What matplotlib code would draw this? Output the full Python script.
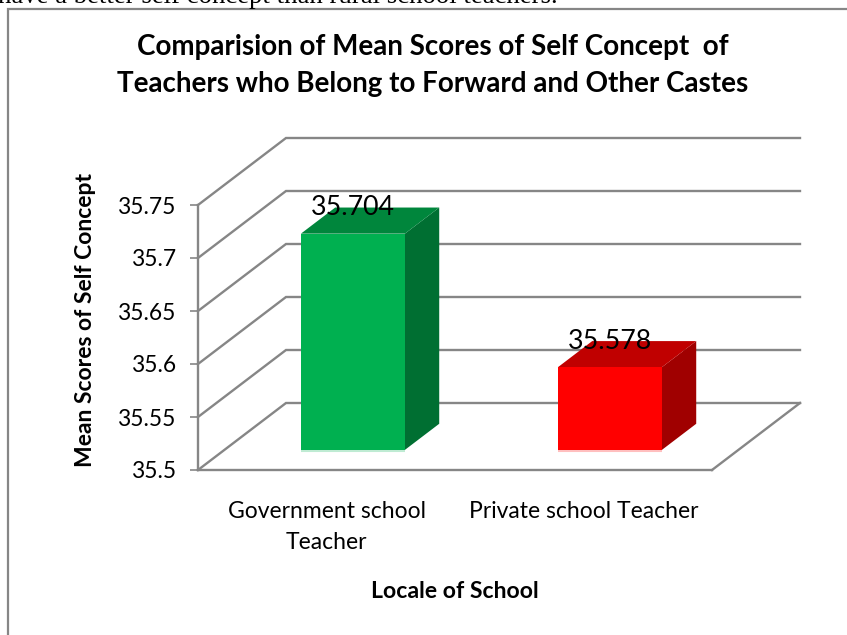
import matplotlib
matplotlib.use("Agg")
import matplotlib.pyplot as plt
from matplotlib.lines import Line2D
from matplotlib.patches import Polygon

plt.rcParams["font.family"] = ["Lato", "DejaVu Sans"]

categories = ["Government school\nTeacher", "Private school Teacher"]
scores = [35.704, 35.578]
value_labels = ["35.704", "35.578"]
y_ticks = [35.5, 35.55, 35.6, 35.65, 35.7, 35.75]
y_tick_labels = ["35.5", "35.55", "35.6", "35.65", "35.7", "35.75"]

title = ("Comparision of Mean Scores of Self Concept  of\n"
         "Teachers who Belong to Forward and Other Castes")
body_line = "have a better self concept than rural school teachers."

GREY = "#868686"
FACE = ["#00B050", "#FF0000"]
TOP = ["#00863C", "#C00000"]
SIDE = ["#006F32", "#A00000"]
BASE = ["#BFEBD3", "#FFBFBF"]

W, H = 847, 635
BASELINE = 35.5
DEPTH_X = 88 / 257      # oblique shift of the back wall, in category units
DEPTH_Y = 67 / 1060     # same, in score units
BAR_WIDTH = 104 / 257
BAR_FRONT = 0.30        # depth fraction of the bar's front and back faces
BAR_BACK = 0.69


def shift(x, y, d):
    return x + d * DEPTH_X, y + d * DEPTH_Y


fig = plt.figure(figsize=(W / 100, H / 100), dpi=100, facecolor="white")
ax = fig.add_axes([198 / W, 1 - 470 / H, 514 / W, 265 / H])
ax.set_xlim(-0.5, 1.5)
ax.set_ylim(BASELINE, y_ticks[-1])
ax.patch.set_visible(False)

# wall gridlines: slanted up the side wall, then across the back
for v in y_ticks:
    x0, x1 = ax.get_xlim()
    bx, by = shift(x0, v, 1)
    ex, _ = shift(x1, v, 1)
    ax.plot([x0, bx, ex], [v, by, by], color=GREY, lw=1.7, clip_on=False, zorder=1,
            solid_joinstyle="miter")

# floor edge on the right
x1 = ax.get_xlim()[1]
fx, fy = shift(x1, BASELINE, 1)
ax.plot([x1, fx], [BASELINE, fy], color=GREY, lw=1.7, clip_on=False, zorder=1)

for i, val in enumerate(scores):
    l, r = i - BAR_WIDTH / 2, i + BAR_WIDTH / 2
    corners = [(l, BASELINE), (r, BASELINE), (r, val), (l, val)]
    front = [shift(x, y, BAR_FRONT) for x, y in corners]
    a = shift(r, val, BAR_FRONT)
    b = shift(r, val, BAR_BACK)
    c = shift(l, val, BAR_BACK)
    d = shift(l, val, BAR_FRONT)
    e = shift(r, BASELINE, BAR_BACK)
    g = shift(r, BASELINE, BAR_FRONT)
    ax.add_patch(Polygon([a, b, e, g], fc=SIDE[i], ec="none", clip_on=False, zorder=3))
    ax.add_patch(Polygon([d, a, b, c], fc=TOP[i], ec="none", clip_on=False, zorder=3))
    ax.add_patch(Polygon(front, fc=FACE[i], ec="none", clip_on=False, zorder=4))
    ax.plot([front[0][0], front[1][0]], [front[0][1] - 0.001] * 2, color=BASE[i], lw=1.5,
            clip_on=False, zorder=3, solid_capstyle="butt")
    # value sits over the back edge of the bar top
    tx, _ = shift(i, val, BAR_FRONT)
    _, ty = shift(i, val, BAR_BACK)
    ax.text(tx, ty, value_labels[i], ha="center", va="center", fontsize=19.3,
            color="black", zorder=5, clip_on=False)

for side in ("top", "right"):
    ax.spines[side].set_visible(False)
for side in ("left", "bottom"):
    ax.spines[side].set_color(GREY)
    ax.spines[side].set_linewidth(1.7)

ax.set_yticks(y_ticks, y_tick_labels)
ax.set_xticks(range(len(categories)), categories, linespacing=1.55)
ax.tick_params(axis="y", length=5.8, width=1.2, color=GREY, pad=9.5, labelsize=16.4)
ax.tick_params(axis="x", length=0, pad=22.5, labelsize=16.5)

fig.text(454.5 / W, 1 - 591 / H, "Locale of School", ha="center", va="center",
         fontsize=16.6, fontweight="bold")
fig.text(85 / W, 1 - 320 / H, "Mean Scores of Self Concept", rotation=90, ha="center",
         va="center", fontsize=16.5, fontweight="bold")
fig.text(433 / W, 1 - 65.5 / H, title, ha="center", va="center", fontsize=20,
         fontweight="bold", linespacing=1.5)

# chart frame, running off the right and bottom of the page
fig.add_artist(Line2D([8 / W, 8 / W, 1], [0, 1 - 9 / H, 1 - 9 / H], color=GREY, lw=1.6,
                      solid_joinstyle="miter"))
# last line of the surrounding paragraph
fig.text(-2 / W, 1 - 3 / H, body_line, ha="left", va="baseline", fontsize=19.3,
         family="Liberation Serif", color="black")

fig.savefig("out.png", dpi=100)
